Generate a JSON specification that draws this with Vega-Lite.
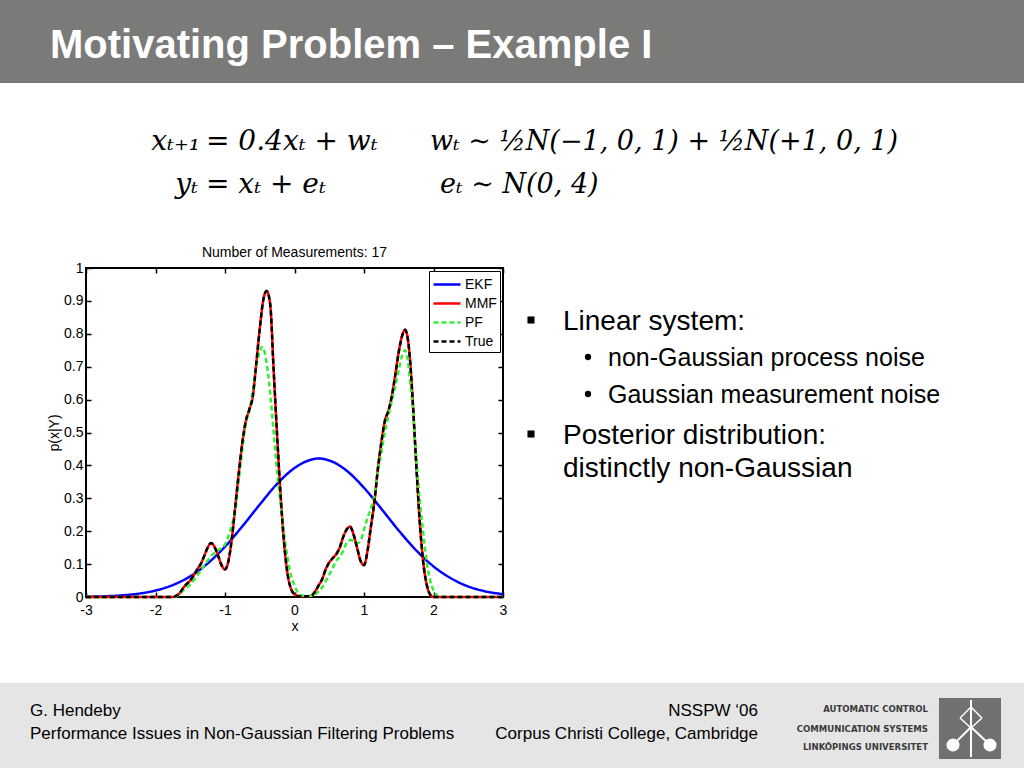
{
  "$schema": "https://vega.github.io/schema/vega-lite/v6.json",
  "width": 417,
  "height": 329,
  "autosize": {"type": "none"},
  "padding": {"left": 86, "top": 268, "right": 521, "bottom": 171},
  "background": "white",
  "config": {
    "font": "Liberation Sans",
    "view": {"stroke": "black", "strokeWidth": 2},
    "axis": {
      "domain": false, "grid": false, "tickSize": -5, "tickColor": "black", "tickWidth": 1.5,
      "labelColor": "black", "labelFontSize": 14, "labelPadding": 8, "labelFlush": false, "labelOverlap": false,
      "titleFontSize": 14, "titleFontWeight": "normal", "titleColor": "black", "labelFont": "Liberation Sans", "titleFont": "Liberation Sans"
    },
    "legend": {
      "orient": "top-right", "offset": 3, "fillColor": "white", "strokeColor": "black", "padding": 3,
      "symbolType": "M-1,0H2", "symbolSize": 324, "symbolStrokeWidth": 2.5, "labelFontSize": 14,
      "labelColor": "black", "labelOffset": 12, "rowPadding": 1, "labelFont": "Liberation Sans"
    }
  },
  "datasets": {
    "curves": [
      {"s": "EKF", "x": -3, "p": 0.0008}, {"s": "EKF", "x": -2.75, "p": 0.002}, {"s": "EKF", "x": -2.5, "p": 0.0047},
      {"s": "EKF", "x": -2.25, "p": 0.0099}, {"s": "EKF", "x": -2, "p": 0.0197}, {"s": "EKF", "x": -1.75, "p": 0.0365},
      {"s": "EKF", "x": -1.5, "p": 0.063}, {"s": "EKF", "x": -1.25, "p": 0.102}, {"s": "EKF", "x": -1, "p": 0.153},
      {"s": "EKF", "x": -0.75, "p": 0.215}, {"s": "EKF", "x": -0.5, "p": 0.281}, {"s": "EKF", "x": -0.25, "p": 0.344},
      {"s": "EKF", "x": 0, "p": 0.392}, {"s": "EKF", "x": 0.25, "p": 0.418}, {"s": "EKF", "x": 0.35, "p": 0.421},
      {"s": "EKF", "x": 0.5, "p": 0.415}, {"s": "EKF", "x": 0.75, "p": 0.384}, {"s": "EKF", "x": 1, "p": 0.332},
      {"s": "EKF", "x": 1.25, "p": 0.268}, {"s": "EKF", "x": 1.5, "p": 0.202}, {"s": "EKF", "x": 1.75, "p": 0.142},
      {"s": "EKF", "x": 2, "p": 0.093}, {"s": "EKF", "x": 2.25, "p": 0.057}, {"s": "EKF", "x": 2.5, "p": 0.032},
      {"s": "EKF", "x": 2.75, "p": 0.017}, {"s": "EKF", "x": 3, "p": 0.0086},

      {"s": "MMF", "x": -3, "p": 0}, {"s": "MMF", "x": -2.5, "p": 0}, {"s": "MMF", "x": -2, "p": 0}, {"s": "MMF", "x": -1.75, "p": 0},
      {"s": "MMF", "x": -1.7, "p": 0.004}, {"s": "MMF", "x": -1.65, "p": 0.012}, {"s": "MMF", "x": -1.6, "p": 0.028},
      {"s": "MMF", "x": -1.55, "p": 0.04}, {"s": "MMF", "x": -1.5, "p": 0.05}, {"s": "MMF", "x": -1.45, "p": 0.066},
      {"s": "MMF", "x": -1.4, "p": 0.084}, {"s": "MMF", "x": -1.35, "p": 0.1}, {"s": "MMF", "x": -1.3, "p": 0.124},
      {"s": "MMF", "x": -1.25, "p": 0.15}, {"s": "MMF", "x": -1.2, "p": 0.164}, {"s": "MMF", "x": -1.15, "p": 0.152},
      {"s": "MMF", "x": -1.1, "p": 0.126}, {"s": "MMF", "x": -1.05, "p": 0.097}, {"s": "MMF", "x": -1, "p": 0.084},
      {"s": "MMF", "x": -0.95, "p": 0.11}, {"s": "MMF", "x": -0.9, "p": 0.18}, {"s": "MMF", "x": -0.85, "p": 0.28},
      {"s": "MMF", "x": -0.8, "p": 0.38}, {"s": "MMF", "x": -0.75, "p": 0.47}, {"s": "MMF", "x": -0.7, "p": 0.535},
      {"s": "MMF", "x": -0.65, "p": 0.57}, {"s": "MMF", "x": -0.6, "p": 0.61}, {"s": "MMF", "x": -0.55, "p": 0.71},
      {"s": "MMF", "x": -0.5, "p": 0.815}, {"s": "MMF", "x": -0.45, "p": 0.902}, {"s": "MMF", "x": -0.4, "p": 0.93},
      {"s": "MMF", "x": -0.35, "p": 0.89}, {"s": "MMF", "x": -0.3, "p": 0.69}, {"s": "MMF", "x": -0.25, "p": 0.49},
      {"s": "MMF", "x": -0.2, "p": 0.31}, {"s": "MMF", "x": -0.15, "p": 0.165}, {"s": "MMF", "x": -0.1, "p": 0.07},
      {"s": "MMF", "x": -0.05, "p": 0.025}, {"s": "MMF", "x": 0, "p": 0.008}, {"s": "MMF", "x": 0.05, "p": 0.003},
      {"s": "MMF", "x": 0.1, "p": 0.002}, {"s": "MMF", "x": 0.2, "p": 0.002}, {"s": "MMF", "x": 0.25, "p": 0.005},
      {"s": "MMF", "x": 0.3, "p": 0.018}, {"s": "MMF", "x": 0.35, "p": 0.036}, {"s": "MMF", "x": 0.4, "p": 0.055},
      {"s": "MMF", "x": 0.45, "p": 0.085}, {"s": "MMF", "x": 0.5, "p": 0.105}, {"s": "MMF", "x": 0.55, "p": 0.118},
      {"s": "MMF", "x": 0.6, "p": 0.13}, {"s": "MMF", "x": 0.65, "p": 0.15}, {"s": "MMF", "x": 0.7, "p": 0.182},
      {"s": "MMF", "x": 0.75, "p": 0.205}, {"s": "MMF", "x": 0.8, "p": 0.214}, {"s": "MMF", "x": 0.85, "p": 0.19},
      {"s": "MMF", "x": 0.9, "p": 0.15}, {"s": "MMF", "x": 0.95, "p": 0.11}, {"s": "MMF", "x": 1, "p": 0.097},
      {"s": "MMF", "x": 1.05, "p": 0.14}, {"s": "MMF", "x": 1.1, "p": 0.215}, {"s": "MMF", "x": 1.15, "p": 0.29},
      {"s": "MMF", "x": 1.2, "p": 0.39}, {"s": "MMF", "x": 1.25, "p": 0.47}, {"s": "MMF", "x": 1.3, "p": 0.535},
      {"s": "MMF", "x": 1.35, "p": 0.565}, {"s": "MMF", "x": 1.4, "p": 0.61}, {"s": "MMF", "x": 1.45, "p": 0.675},
      {"s": "MMF", "x": 1.5, "p": 0.745}, {"s": "MMF", "x": 1.55, "p": 0.795}, {"s": "MMF", "x": 1.59, "p": 0.812},
      {"s": "MMF", "x": 1.63, "p": 0.785}, {"s": "MMF", "x": 1.67, "p": 0.7}, {"s": "MMF", "x": 1.7, "p": 0.6},
      {"s": "MMF", "x": 1.75, "p": 0.41}, {"s": "MMF", "x": 1.8, "p": 0.235}, {"s": "MMF", "x": 1.85, "p": 0.11},
      {"s": "MMF", "x": 1.9, "p": 0.04}, {"s": "MMF", "x": 1.95, "p": 0.008}, {"s": "MMF", "x": 2, "p": 0},
      {"s": "MMF", "x": 2.5, "p": 0}, {"s": "MMF", "x": 3, "p": 0},

      {"s": "PF", "x": -3, "p": 0}, {"s": "PF", "x": -2.5, "p": 0}, {"s": "PF", "x": -2, "p": 0}, {"s": "PF", "x": -1.75, "p": 0},
      {"s": "PF", "x": -1.7, "p": 0.002}, {"s": "PF", "x": -1.6, "p": 0.02}, {"s": "PF", "x": -1.5, "p": 0.038},
      {"s": "PF", "x": -1.4, "p": 0.065}, {"s": "PF", "x": -1.3, "p": 0.095}, {"s": "PF", "x": -1.2, "p": 0.125},
      {"s": "PF", "x": -1.1, "p": 0.142}, {"s": "PF", "x": -1, "p": 0.16}, {"s": "PF", "x": -0.95, "p": 0.185},
      {"s": "PF", "x": -0.9, "p": 0.22}, {"s": "PF", "x": -0.85, "p": 0.265}, {"s": "PF", "x": -0.8, "p": 0.36},
      {"s": "PF", "x": -0.75, "p": 0.45}, {"s": "PF", "x": -0.7, "p": 0.53}, {"s": "PF", "x": -0.65, "p": 0.565},
      {"s": "PF", "x": -0.6, "p": 0.625}, {"s": "PF", "x": -0.55, "p": 0.7}, {"s": "PF", "x": -0.5, "p": 0.745},
      {"s": "PF", "x": -0.47, "p": 0.76}, {"s": "PF", "x": -0.43, "p": 0.745}, {"s": "PF", "x": -0.4, "p": 0.71},
      {"s": "PF", "x": -0.35, "p": 0.62}, {"s": "PF", "x": -0.3, "p": 0.5}, {"s": "PF", "x": -0.25, "p": 0.38},
      {"s": "PF", "x": -0.2, "p": 0.285}, {"s": "PF", "x": -0.15, "p": 0.19}, {"s": "PF", "x": -0.1, "p": 0.12},
      {"s": "PF", "x": -0.05, "p": 0.065}, {"s": "PF", "x": 0, "p": 0.035}, {"s": "PF", "x": 0.05, "p": 0.013},
      {"s": "PF", "x": 0.1, "p": 0.005}, {"s": "PF", "x": 0.2, "p": 0.003}, {"s": "PF", "x": 0.3, "p": 0.008},
      {"s": "PF", "x": 0.35, "p": 0.018}, {"s": "PF", "x": 0.4, "p": 0.03}, {"s": "PF", "x": 0.45, "p": 0.048},
      {"s": "PF", "x": 0.5, "p": 0.068}, {"s": "PF", "x": 0.55, "p": 0.088}, {"s": "PF", "x": 0.6, "p": 0.11},
      {"s": "PF", "x": 0.65, "p": 0.122}, {"s": "PF", "x": 0.7, "p": 0.14}, {"s": "PF", "x": 0.75, "p": 0.165},
      {"s": "PF", "x": 0.8, "p": 0.173}, {"s": "PF", "x": 0.85, "p": 0.17}, {"s": "PF", "x": 0.9, "p": 0.163},
      {"s": "PF", "x": 0.95, "p": 0.17}, {"s": "PF", "x": 1, "p": 0.205}, {"s": "PF", "x": 1.05, "p": 0.24},
      {"s": "PF", "x": 1.1, "p": 0.27}, {"s": "PF", "x": 1.15, "p": 0.31}, {"s": "PF", "x": 1.2, "p": 0.38},
      {"s": "PF", "x": 1.25, "p": 0.44}, {"s": "PF", "x": 1.3, "p": 0.5}, {"s": "PF", "x": 1.35, "p": 0.55},
      {"s": "PF", "x": 1.4, "p": 0.595}, {"s": "PF", "x": 1.45, "p": 0.64}, {"s": "PF", "x": 1.5, "p": 0.69},
      {"s": "PF", "x": 1.55, "p": 0.735}, {"s": "PF", "x": 1.59, "p": 0.75}, {"s": "PF", "x": 1.63, "p": 0.72},
      {"s": "PF", "x": 1.67, "p": 0.64}, {"s": "PF", "x": 1.7, "p": 0.58}, {"s": "PF", "x": 1.75, "p": 0.43},
      {"s": "PF", "x": 1.8, "p": 0.3}, {"s": "PF", "x": 1.85, "p": 0.2}, {"s": "PF", "x": 1.9, "p": 0.11},
      {"s": "PF", "x": 1.95, "p": 0.052}, {"s": "PF", "x": 2, "p": 0.02}, {"s": "PF", "x": 2.05, "p": 0.005},
      {"s": "PF", "x": 2.1, "p": 0}, {"s": "PF", "x": 2.5, "p": 0}, {"s": "PF", "x": 3, "p": 0},

      {"s": "True", "x": -3, "p": 0}, {"s": "True", "x": -2.5, "p": 0}, {"s": "True", "x": -2, "p": 0}, {"s": "True", "x": -1.75, "p": 0},
      {"s": "True", "x": -1.7, "p": 0.004}, {"s": "True", "x": -1.65, "p": 0.012}, {"s": "True", "x": -1.6, "p": 0.028},
      {"s": "True", "x": -1.55, "p": 0.04}, {"s": "True", "x": -1.5, "p": 0.05}, {"s": "True", "x": -1.45, "p": 0.066},
      {"s": "True", "x": -1.4, "p": 0.084}, {"s": "True", "x": -1.35, "p": 0.1}, {"s": "True", "x": -1.3, "p": 0.124},
      {"s": "True", "x": -1.25, "p": 0.15}, {"s": "True", "x": -1.2, "p": 0.164}, {"s": "True", "x": -1.15, "p": 0.152},
      {"s": "True", "x": -1.1, "p": 0.126}, {"s": "True", "x": -1.05, "p": 0.097}, {"s": "True", "x": -1, "p": 0.084},
      {"s": "True", "x": -0.95, "p": 0.11}, {"s": "True", "x": -0.9, "p": 0.18}, {"s": "True", "x": -0.85, "p": 0.28},
      {"s": "True", "x": -0.8, "p": 0.38}, {"s": "True", "x": -0.75, "p": 0.47}, {"s": "True", "x": -0.7, "p": 0.535},
      {"s": "True", "x": -0.65, "p": 0.57}, {"s": "True", "x": -0.6, "p": 0.61}, {"s": "True", "x": -0.55, "p": 0.71},
      {"s": "True", "x": -0.5, "p": 0.815}, {"s": "True", "x": -0.45, "p": 0.902}, {"s": "True", "x": -0.4, "p": 0.93},
      {"s": "True", "x": -0.35, "p": 0.89}, {"s": "True", "x": -0.3, "p": 0.69}, {"s": "True", "x": -0.25, "p": 0.49},
      {"s": "True", "x": -0.2, "p": 0.31}, {"s": "True", "x": -0.15, "p": 0.165}, {"s": "True", "x": -0.1, "p": 0.07},
      {"s": "True", "x": -0.05, "p": 0.025}, {"s": "True", "x": 0, "p": 0.008}, {"s": "True", "x": 0.05, "p": 0.003},
      {"s": "True", "x": 0.1, "p": 0.002}, {"s": "True", "x": 0.2, "p": 0.002}, {"s": "True", "x": 0.25, "p": 0.005},
      {"s": "True", "x": 0.3, "p": 0.018}, {"s": "True", "x": 0.35, "p": 0.036}, {"s": "True", "x": 0.4, "p": 0.055},
      {"s": "True", "x": 0.45, "p": 0.085}, {"s": "True", "x": 0.5, "p": 0.105}, {"s": "True", "x": 0.55, "p": 0.118},
      {"s": "True", "x": 0.6, "p": 0.13}, {"s": "True", "x": 0.65, "p": 0.15}, {"s": "True", "x": 0.7, "p": 0.182},
      {"s": "True", "x": 0.75, "p": 0.205}, {"s": "True", "x": 0.8, "p": 0.214}, {"s": "True", "x": 0.85, "p": 0.19},
      {"s": "True", "x": 0.9, "p": 0.15}, {"s": "True", "x": 0.95, "p": 0.11}, {"s": "True", "x": 1, "p": 0.097},
      {"s": "True", "x": 1.05, "p": 0.14}, {"s": "True", "x": 1.1, "p": 0.215}, {"s": "True", "x": 1.15, "p": 0.29},
      {"s": "True", "x": 1.2, "p": 0.39}, {"s": "True", "x": 1.25, "p": 0.47}, {"s": "True", "x": 1.3, "p": 0.535},
      {"s": "True", "x": 1.35, "p": 0.565}, {"s": "True", "x": 1.4, "p": 0.61}, {"s": "True", "x": 1.45, "p": 0.675},
      {"s": "True", "x": 1.5, "p": 0.745}, {"s": "True", "x": 1.55, "p": 0.795}, {"s": "True", "x": 1.59, "p": 0.812},
      {"s": "True", "x": 1.63, "p": 0.785}, {"s": "True", "x": 1.67, "p": 0.7}, {"s": "True", "x": 1.7, "p": 0.6},
      {"s": "True", "x": 1.75, "p": 0.41}, {"s": "True", "x": 1.8, "p": 0.235}, {"s": "True", "x": 1.85, "p": 0.11},
      {"s": "True", "x": 1.9, "p": 0.04}, {"s": "True", "x": 1.95, "p": 0.008}, {"s": "True", "x": 2, "p": 0},
      {"s": "True", "x": 2.5, "p": 0}, {"s": "True", "x": 3, "p": 0}
    ]
  },
  "resolve": {"axis": {"x": "independent", "y": "independent"}},
  "layer": [
    {"data": {"values": [{}]}, "mark": {"type": "rect", "color": "#7a7a78"}, "encoding": {"x": {"value": -86}, "x2": {"value": 938}, "y": {"value": -268}, "y2": {"value": -185}}},
    {"data": {"values": [{}]}, "mark": {"type": "rect", "color": "#e5e5e5"}, "encoding": {"x": {"value": -86}, "x2": {"value": 938}, "y": {"value": 415}, "y2": {"value": 500}}},
    {"data": {"values": [{}]}, "mark": {"type": "rect", "color": "#707070"}, "encoding": {"x": {"value": 853}, "x2": {"value": 915}, "y": {"value": 430}, "y2": {"value": 491}}},
    {"data": {"values": [{}]}, "mark": {"type": "rule", "color": "white", "strokeWidth": 2}, "encoding": {"x": {"value": 885}, "x2": {"value": 885}, "y": {"value": 432}, "y2": {"value": 489}}},
    {"data": {"values": [{}]}, "mark": {"type": "rule", "color": "white", "strokeWidth": 2}, "encoding": {"x": {"value": 885}, "x2": {"value": 867}, "y": {"value": 459}, "y2": {"value": 477}}},
    {"data": {"values": [{}]}, "mark": {"type": "rule", "color": "white", "strokeWidth": 2}, "encoding": {"x": {"value": 885}, "x2": {"value": 904}, "y": {"value": 459}, "y2": {"value": 477}}},
    {"data": {"values": [{}]}, "mark": {"type": "rule", "color": "white", "strokeWidth": 1.5}, "encoding": {"x": {"value": 885}, "x2": {"value": 874}, "y": {"value": 439}, "y2": {"value": 450}}},
    {"data": {"values": [{}]}, "mark": {"type": "rule", "color": "white", "strokeWidth": 1.5}, "encoding": {"x": {"value": 885}, "x2": {"value": 896}, "y": {"value": 439}, "y2": {"value": 450}}},
    {"data": {"values": [{}]}, "mark": {"type": "rule", "color": "white", "strokeWidth": 1.5}, "encoding": {"x": {"value": 874}, "x2": {"value": 885}, "y": {"value": 450}, "y2": {"value": 460}}},
    {"data": {"values": [{}]}, "mark": {"type": "rule", "color": "white", "strokeWidth": 1.5}, "encoding": {"x": {"value": 896}, "x2": {"value": 885}, "y": {"value": 450}, "y2": {"value": 460}}},
    {"data": {"values": [{}]}, "mark": {"type": "point", "shape": "circle", "filled": true, "color": "white", "opacity": 1, "size": 170}, "encoding": {"x": {"value": 867}, "y": {"value": 477}}},
    {"data": {"values": [{}]}, "mark": {"type": "point", "shape": "circle", "filled": true, "color": "white", "opacity": 1, "size": 170}, "encoding": {"x": {"value": 904}, "y": {"value": 477}}},
    {"data": {"values": [{}]}, "mark": {"type": "text", "text": "Motivating Problem – Example I", "font": "Liberation Sans", "fontWeight": "bold", "fontSize": 40, "color": "white", "align": "left", "baseline": "alphabetic"}, "encoding": {"x": {"value": -36}, "y": {"value": -210}}},
    {"data": {"values": [{}]}, "mark": {"type": "text", "text": "xₜ₊₁", "font": "DejaVu Serif", "fontStyle": "italic", "fontSize": 28, "color": "black", "align": "right", "baseline": "alphabetic"}, "encoding": {"x": {"value": 114}, "y": {"value": -118}}},
    {"data": {"values": [{}]}, "mark": {"type": "text", "text": "= 0.4xₜ + wₜ", "font": "DejaVu Serif", "fontStyle": "italic", "fontSize": 28, "color": "black", "align": "left", "baseline": "alphabetic"}, "encoding": {"x": {"value": 120}, "y": {"value": -118}}},
    {"data": {"values": [{}]}, "mark": {"type": "text", "text": "yₜ", "font": "DejaVu Serif", "fontStyle": "italic", "fontSize": 28, "color": "black", "align": "right", "baseline": "alphabetic"}, "encoding": {"x": {"value": 112}, "y": {"value": -75}}},
    {"data": {"values": [{}]}, "mark": {"type": "text", "text": "= xₜ + eₜ", "font": "DejaVu Serif", "fontStyle": "italic", "fontSize": 28, "color": "black", "align": "left", "baseline": "alphabetic"}, "encoding": {"x": {"value": 120}, "y": {"value": -75}}},
    {"data": {"values": [{}]}, "mark": {"type": "text", "text": "wₜ ∼ ½N(−1, 0, 1) + ½N(+1, 0, 1)", "font": "DejaVu Serif", "fontStyle": "italic", "fontSize": 27, "color": "black", "align": "left", "baseline": "alphabetic"}, "encoding": {"x": {"value": 344}, "y": {"value": -118}}},
    {"data": {"values": [{}]}, "mark": {"type": "text", "text": "eₜ ∼ N(0, 4)", "font": "DejaVu Serif", "fontStyle": "italic", "fontSize": 27, "color": "black", "align": "left", "baseline": "alphabetic"}, "encoding": {"x": {"value": 354}, "y": {"value": -75}}},
    {"data": {"values": [{}]}, "mark": {"type": "text", "text": "Number of Measurements: 17", "font": "Liberation Sans", "fontSize": 14, "color": "black", "align": "center", "baseline": "alphabetic"}, "encoding": {"x": {"value": 208.5}, "y": {"value": -11}}},
    {"data": {"values": [{}]}, "mark": {"type": "point", "shape": "square", "filled": true, "color": "black", "opacity": 1, "size": 50}, "encoding": {"x": {"value": 445}, "y": {"value": 52}}},
    {"data": {"values": [{}]}, "mark": {"type": "point", "shape": "square", "filled": true, "color": "black", "opacity": 1, "size": 50}, "encoding": {"x": {"value": 445}, "y": {"value": 166}}},
    {"data": {"values": [{}]}, "mark": {"type": "point", "shape": "circle", "filled": true, "color": "black", "opacity": 1, "size": 40}, "encoding": {"x": {"value": 502}, "y": {"value": 89}}},
    {"data": {"values": [{}]}, "mark": {"type": "point", "shape": "circle", "filled": true, "color": "black", "opacity": 1, "size": 40}, "encoding": {"x": {"value": 502}, "y": {"value": 126}}},
    {"data": {"values": [{}]}, "mark": {"type": "text", "text": "Linear system:", "font": "Liberation Sans", "fontSize": 28, "color": "black", "align": "left", "baseline": "alphabetic"}, "encoding": {"x": {"value": 477}, "y": {"value": 62}}},
    {"data": {"values": [{}]}, "mark": {"type": "text", "text": "non-Gaussian process noise", "font": "Liberation Sans", "fontSize": 25, "color": "black", "align": "left", "baseline": "alphabetic"}, "encoding": {"x": {"value": 522}, "y": {"value": 98}}},
    {"data": {"values": [{}]}, "mark": {"type": "text", "text": "Gaussian measurement noise", "font": "Liberation Sans", "fontSize": 25, "color": "black", "align": "left", "baseline": "alphabetic"}, "encoding": {"x": {"value": 522}, "y": {"value": 135}}},
    {"data": {"values": [{}]}, "mark": {"type": "text", "text": "Posterior distribution:", "font": "Liberation Sans", "fontSize": 28, "color": "black", "align": "left", "baseline": "alphabetic"}, "encoding": {"x": {"value": 477}, "y": {"value": 176}}},
    {"data": {"values": [{}]}, "mark": {"type": "text", "text": "distinctly non-Gaussian", "font": "Liberation Sans", "fontSize": 28, "color": "black", "align": "left", "baseline": "alphabetic"}, "encoding": {"x": {"value": 477}, "y": {"value": 209}}},
    {"data": {"values": [{}]}, "mark": {"type": "text", "text": "G. Hendeby", "font": "Liberation Sans", "fontSize": 17, "color": "black", "align": "left", "baseline": "alphabetic"}, "encoding": {"x": {"value": -56}, "y": {"value": 448}}},
    {"data": {"values": [{}]}, "mark": {"type": "text", "text": "Performance Issues in Non-Gaussian Filtering Problems", "font": "Liberation Sans", "fontSize": 17, "color": "black", "align": "left", "baseline": "alphabetic"}, "encoding": {"x": {"value": -56}, "y": {"value": 471}}},
    {"data": {"values": [{}]}, "mark": {"type": "text", "text": "NSSPW ‘06", "font": "Liberation Sans", "fontSize": 17, "color": "black", "align": "right", "baseline": "alphabetic"}, "encoding": {"x": {"value": 672}, "y": {"value": 448}}},
    {"data": {"values": [{}]}, "mark": {"type": "text", "text": "Corpus Christi College, Cambridge", "font": "Liberation Sans", "fontSize": 17, "color": "black", "align": "right", "baseline": "alphabetic"}, "encoding": {"x": {"value": 672}, "y": {"value": 471}}},
    {"data": {"values": [{}]}, "mark": {"type": "text", "text": "AUTOMATIC CONTROL", "font": "Liberation Sans Narrow, DejaVu Sans Condensed, Liberation Sans", "fontWeight": "bold", "fontSize": 9.5, "color": "#3a3a3a", "align": "right", "baseline": "alphabetic"}, "encoding": {"x": {"value": 842}, "y": {"value": 444}}},
    {"data": {"values": [{}]}, "mark": {"type": "text", "text": "COMMUNICATION SYSTEMS", "font": "Liberation Sans Narrow, DejaVu Sans Condensed, Liberation Sans", "fontWeight": "bold", "fontSize": 9.5, "color": "#3a3a3a", "align": "right", "baseline": "alphabetic"}, "encoding": {"x": {"value": 842}, "y": {"value": 464}}},
    {"data": {"values": [{}]}, "mark": {"type": "text", "text": "LINKÖPINGS UNIVERSITET", "font": "Liberation Sans Narrow, DejaVu Sans Condensed, Liberation Sans", "fontWeight": "bold", "fontSize": 9.5, "color": "#3a3a3a", "align": "right", "baseline": "alphabetic"}, "encoding": {"x": {"value": 842}, "y": {"value": 482}}},
    {
      "data": {"name": "curves"},
      "transform": [{"filter": "datum.s === 'EKF'"}],
      "mark": {"type": "line", "strokeWidth": 2.5, "interpolate": "monotone"},
      "encoding": {
        "x": {"field": "x", "type": "quantitative", "scale": {"domain": [-3, 3], "nice": false, "zero": false},
              "axis": {"orient": "bottom", "values": [-3, -2, -1, 0, 1, 2, 3], "labelExpr": "'' + datum.value", "title": "x", "titlePadding": 2, "labelPadding": 11}},
        "y": {"field": "p", "type": "quantitative", "scale": {"domain": [0, 1], "nice": false, "zero": false},
              "axis": {"orient": "left", "values": [0, 0.1, 0.2, 0.3, 0.4, 0.5, 0.6, 0.7, 0.8, 0.9, 1], "labelExpr": "'' + datum.value", "title": "p(x|Y)", "titlePadding": 2, "labelPadding": 8}},
        "color": {"field": "s", "type": "nominal", "scale": {"domain": ["EKF", "MMF", "PF", "True"], "range": ["#0000ff", "#ff0000", "#33ee33", "#000000"]}, "legend": {"title": null}},
        "strokeDash": {"field": "s", "type": "nominal", "scale": {"domain": ["EKF", "MMF", "PF", "True"], "range": [[1, 0], [1, 0], [5, 3], [5, 3]]}, "legend": {"title": null}}
      }
    },
    {
      "data": {"name": "curves"},
      "transform": [{"filter": "datum.s === 'MMF'"}],
      "mark": {"type": "line", "strokeWidth": 2.5, "interpolate": "monotone"},
      "encoding": {
        "x": {"field": "x", "type": "quantitative", "axis": {"orient": "top", "values": [-3, -2, -1, 0, 1, 2, 3], "labels": false, "title": null}},
        "y": {"field": "p", "type": "quantitative", "axis": {"orient": "right", "values": [0, 0.1, 0.2, 0.3, 0.4, 0.5, 0.6, 0.7, 0.8, 0.9, 1], "labels": false, "title": null}},
        "color": {"field": "s", "type": "nominal", "legend": {"title": null}},
        "strokeDash": {"field": "s", "type": "nominal", "legend": {"title": null}}
      }
    },
    {
      "data": {"name": "curves"},
      "transform": [{"filter": "datum.s === 'PF'"}],
      "mark": {"type": "line", "strokeWidth": 2.5, "interpolate": "monotone"},
      "encoding": {
        "x": {"field": "x", "type": "quantitative", "axis": null},
        "y": {"field": "p", "type": "quantitative", "axis": null},
        "color": {"field": "s", "type": "nominal", "legend": {"title": null}},
        "strokeDash": {"field": "s", "type": "nominal", "legend": {"title": null}}
      }
    },
    {
      "data": {"name": "curves"},
      "transform": [{"filter": "datum.s === 'True'"}],
      "mark": {"type": "line", "strokeWidth": 2.5, "interpolate": "monotone"},
      "encoding": {
        "x": {"field": "x", "type": "quantitative", "axis": null},
        "y": {"field": "p", "type": "quantitative", "axis": null},
        "color": {"field": "s", "type": "nominal", "legend": {"title": null}},
        "strokeDash": {"field": "s", "type": "nominal", "legend": {"title": null}}
      }
    }
  ]
}
